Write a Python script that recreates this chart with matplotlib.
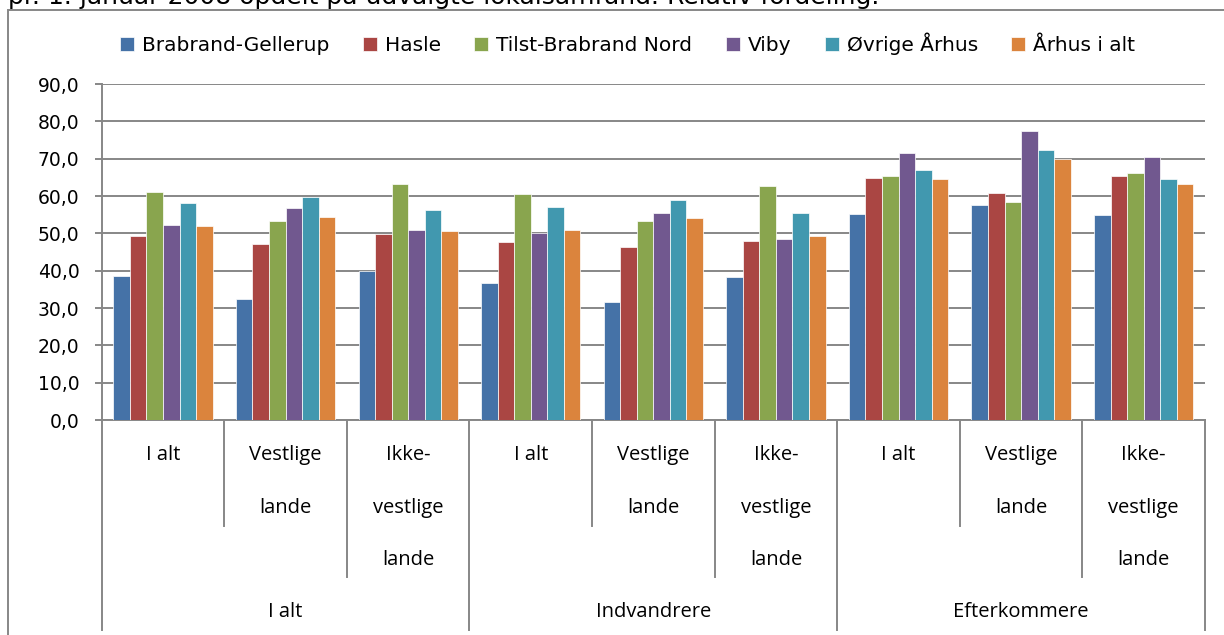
import numpy as np
import matplotlib.pyplot as plt
from matplotlib.patches import Rectangle

# Data (percent)
series = ['Brabrand-Gellerup', 'Hasle', 'Tilst-Brabrand Nord', 'Viby', 'Øvrige Århus', 'Århus i alt']
colors = ['#4572A7', '#AA4643', '#89A54E', '#71588F', '#4198AF', '#DB843D']

groups = ['I alt', 'Indvandrere', 'Efterkommere']
subcats = [['I alt'], ['Vestlige', 'lande'], ['Ikke-', 'vestlige', 'lande']]

brabrand = [38.5, 32.5, 40.0, 36.8, 31.5, 38.2, 55.3, 57.5, 55.0]
hasle = [49.3, 47.2, 49.8, 47.7, 46.3, 48.0, 64.8, 60.9, 65.3]
tilst = [61.0, 53.2, 63.1, 60.5, 53.2, 62.8, 65.3, 58.4, 66.1]
viby = [52.3, 56.7, 51.0, 50.2, 55.4, 48.5, 71.5, 77.4, 70.5]
ovrige = [58.0, 59.8, 56.2, 57.1, 58.8, 55.4, 67.0, 72.3, 64.5]
aarhus = [51.9, 54.5, 50.6, 51.0, 54.1, 49.3, 64.5, 70.0, 63.1]
values = [brabrand, hasle, tilst, viby, ovrige, aarhus]

W, H = 1224, 635
fig = plt.figure(figsize=(W / 100, H / 100), dpi=100)

# axes placement in pixels
x0, x1 = 101.7, 1205
y_top, y_bot = 84, 420
ax = fig.add_axes([x0 / W, 1 - y_bot / H, (x1 - x0) / W, (y_bot - y_top) / H])

grey = '#878787'
n = len(brabrand)
bw = 0.135
xc = np.arange(n) + 0.5
for j, (vals, c) in enumerate(zip(values, colors)):
    ax.bar(xc + (j - 2.5) * bw, vals, width=bw, color=c, edgecolor='white',
           linewidth=0.5, label=series[j], zorder=3)

ax.set_xlim(0, n)
ax.set_ylim(0, 90)
ax.set_yticks(np.arange(0, 91, 10))
ax.set_yticklabels([f'{v:.1f}'.replace('.', ',') for v in np.arange(0, 91, 10)],
                   fontsize=13.5, color='black')
ax.yaxis.grid(True, color=grey, linewidth=1.4, zorder=0)
ax.tick_params(axis='y', length=5, width=1.4, color=grey, pad=11)
ax.set_xticks([])
for s in ['top', 'right']:
    ax.spines[s].set_visible(False)
for s in ['left', 'bottom']:
    ax.spines[s].set_color(grey)
    ax.spines[s].set_linewidth(1.4)


def ay(ypix):
    # pixel row -> axes fraction
    return (y_bot - ypix) / (y_bot - y_top)


# multi-level category axis
row_y = [455, 508, 560]
lab_font = dict(family='Open Sans', fontsize=14.5, ha='center', va='center')
for g in range(3):
    for k, lines in enumerate(subcats):
        i = g * 3 + k
        for r, t in enumerate(lines):
            ax.text(i + 0.5, ay(row_y[r]), t, transform=ax.get_xaxis_transform(),
                    clip_on=False, **lab_font)
    ax.text(g * 3 + 1.5, ay(612), groups[g], transform=ax.get_xaxis_transform(),
            clip_on=False, **lab_font)

line_end = {0: 630, 1: 526, 2: 577}
for b in range(n + 1):
    end = line_end[b % 3]
    ax.plot([b, b], [0, ay(end)], transform=ax.get_xaxis_transform(),
            color=grey, linewidth=1.4, clip_on=False)

# legend
handles, labels = ax.get_legend_handles_labels()
fig.legend(handles, labels, loc='center left', bbox_to_anchor=(114 / W, 1 - 44 / H), ncol=6,
           frameon=False, fontsize=14.5, handlelength=0.7, handleheight=0.7,
           handletextpad=0.4, columnspacing=1.65, borderaxespad=0, borderpad=0.3)

# outer chart border and cut-off title line
fig.patches.append(Rectangle((8 / W, -0.1), 1.2, 1.1 - 10 / H, transform=fig.transFigure,
                             fill=False, edgecolor=grey, linewidth=1.4))
fig.text(8 / W, 1 - 4 / H, 'pr. 1. januar 2008 opdelt på udvalgte lokalsamfund. Relativ fordeling.',
         fontsize=18, va='baseline', ha='left')

fig.savefig('out.png', dpi=100)
